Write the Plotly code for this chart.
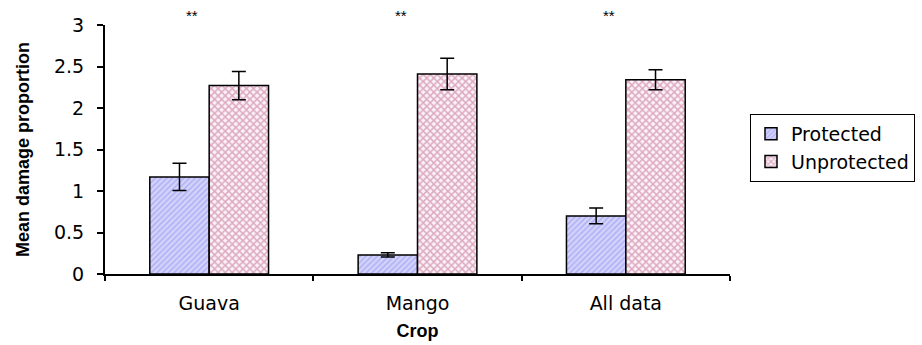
import plotly.graph_objects as go

# Mean damage proportion by crop, with standard errors
crops = ["Guava", "Mango", "All data"]
protected = [1.17, 0.23, 0.70]
protected_err = [0.165, 0.025, 0.095]
unprotected = [2.27, 2.41, 2.34]
unprotected_err = [0.17, 0.19, 0.12]
significance = ["**", "**", "**"]
y_ticks = [0, 0.5, 1, 1.5, 2, 2.5, 3]
y_tick_text = ["0", "0.5", "1", "1.5", "2", "2.5", "3"]

TICK_FONT = dict(family="DejaVu Sans", size=19, color="black")
TITLE_FONT = dict(family="Liberation Sans, Arial", size=18, color="black", weight="bold")

fig = go.Figure()
fig.add_trace(go.Bar(
    name="Protected", x=crops, y=protected,
    error_y=dict(type="data", array=protected_err, color="black", thickness=1.5, width=7),
    marker=dict(color="#d4d4fb", line=dict(color="black", width=1.5),
                pattern=dict(shape="/", fgcolor="#8f8ff0", size=4, solidity=0.45)),
))
fig.add_trace(go.Bar(
    name="Unprotected", x=crops, y=unprotected,
    error_y=dict(type="data", array=unprotected_err, color="black", thickness=1.5, width=7),
    marker=dict(color="#fbf2f6", line=dict(color="black", width=1.5),
                pattern=dict(shape="x", fgcolor="#c0608c", size=5, solidity=0.5)),
))

for i, s in enumerate(significance):
    fig.add_annotation(x=crops[i], y=1.04, xref="x", yref="paper", text=s,
                       showarrow=False, xshift=-17, yanchor="middle",
                       font=dict(family="Liberation Sans, Arial", size=15, color="black"))

fig.update_layout(
    width=922, height=345,
    margin=dict(l=105, r=192, t=25, b=71, autoexpand=False),
    paper_bgcolor="white", plot_bgcolor="white",
    barmode="group", bargap=0.43, bargroupgap=0,
    showlegend=True,
    legend=dict(x=1.032, xanchor="left", y=0.506, yanchor="middle",
                bordercolor="black", borderwidth=1, bgcolor="white",
                font=dict(family="DejaVu Sans", size=19, color="black"),
                itemwidth=30, tracegroupgap=0),
    xaxis=dict(
        range=[-0.5, 2.5], showline=True, linecolor="black", linewidth=2,
        ticks="outside", tickson="boundaries", ticklen=5, tickwidth=2, tickcolor="black",
        tickfont=TICK_FONT, ticklabelstandoff=11, showgrid=False, automargin=False,
        title=dict(text="Crop", font=TITLE_FONT, standoff=12),
    ),
    yaxis=dict(
        range=[0, 3], tickvals=y_ticks, ticktext=y_tick_text,
        showline=True, linecolor="black", linewidth=2,
        ticks="outside", ticklen=6, tickwidth=2, tickcolor="black",
        tickfont=TICK_FONT, ticklabelstandoff=9, showgrid=False, zeroline=False,
        automargin=False,
        title=dict(text="Mean damage proportion", font=TITLE_FONT, standoff=20),
    ),
)

fig.write_html("out.html")
